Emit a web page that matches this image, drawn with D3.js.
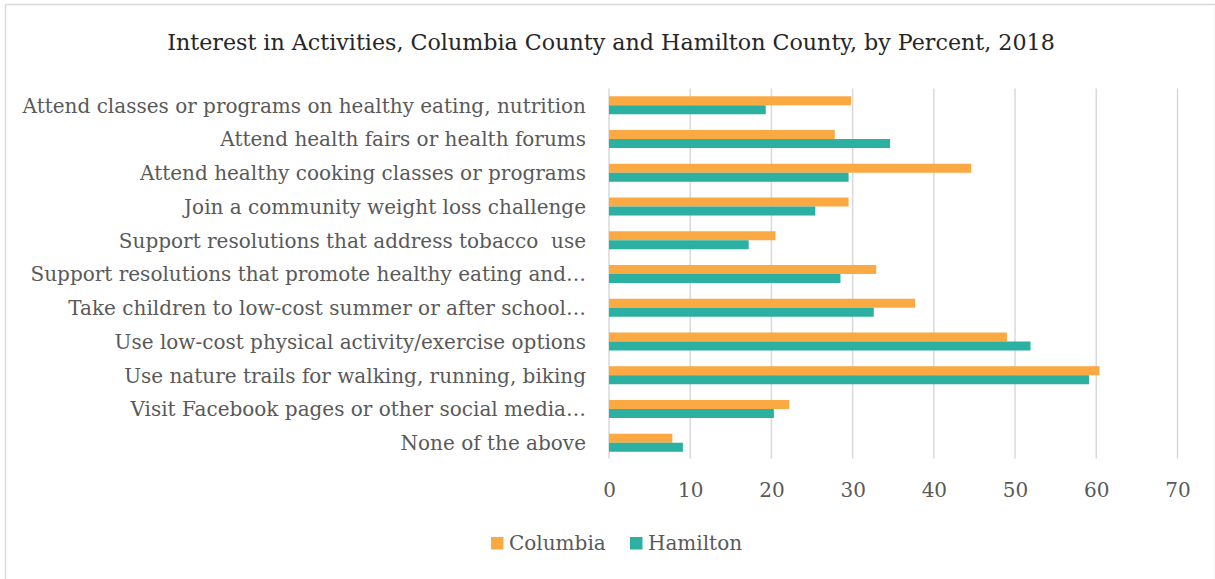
<!DOCTYPE html>
<html>
<head>
<meta charset="utf-8">
<script src="https://cdn.jsdelivr.net/npm/d3@7"></script>
<style>
  html, body { margin: 0; padding: 0; background: #fff; }
  svg { display: block; }
  text { font-family: "DejaVu Serif", "Liberation Serif", serif; white-space: pre; }
</style>
</head>
<body>
<svg id="chart" width="1215" height="579"></svg>
<script>
// Activities asked about in the survey (top to bottom)
const categories = [
  "Attend classes or programs on healthy eating, nutrition",
  "Attend health fairs or health forums",
  "Attend healthy cooking classes or programs",
  "Join a community weight loss challenge",
  "Support resolutions that address tobacco  use",
  "Support resolutions that promote healthy eating and\u2026",
  "Take children to low-cost summer or after school\u2026",
  "Use low-cost physical activity/exercise options",
  "Use nature trails for walking, running, biking",
  "Visit Facebook pages or other social media\u2026",
  "None of the above"
];

// Percent interested, by county
const columbia = [29.8, 27.8, 44.6, 29.5, 20.5, 32.9, 37.7, 49.0, 60.4, 22.2, 7.8];
const hamilton = [19.3, 34.6, 29.5, 25.4, 17.2, 28.5, 32.6, 51.9, 59.1, 20.3, 9.1];

const seriesNames = ["Columbia", "Hamilton"];
const seriesColors = ["#FBA943", "#2BB0A2"];
const xTicks = [0, 10, 20, 30, 40, 50, 60, 70];

const titleText = "Interest in Activities, Columbia County and Hamilton County, by Percent, 2018";

const svg = d3.select("#chart");
const W = 1215, H = 579;
const FONT = "'DejaVu Serif', 'Liberation Serif', serif";

// outer chart frame
svg.append("rect")
  .attr("x", 5.5).attr("y", 4.5)
  .attr("width", W - 5).attr("height", H)
  .attr("fill", "#fff")
  .attr("stroke", "#d9d9d9").attr("stroke-width", 1.5);

const plot = { left: 609, right: 1177.5, top: 88.4, bottom: 459.6 };

const x = d3.scaleLinear().domain([0, 70]).range([plot.left, plot.right]);
const y = d3.scaleBand().domain(categories)
  .range([plot.top, plot.bottom])
  .paddingInner(0.466).paddingOuter(0.233);
const ySub = d3.scaleBand().domain(seriesNames).range([0, y.bandwidth()]);

// title
svg.append("text")
  .attr("x", 611).attr("y", 50)
  .attr("text-anchor", "middle")
  .attr("fill", "#262626")
  .style("font-size", "22.2px")
  .text(titleText);

// vertical gridlines
svg.append("g")
  .selectAll("line")
  .data(xTicks)
  .join("line")
  .attr("x1", d => x(d)).attr("x2", d => x(d))
  .attr("y1", plot.top).attr("y2", 458.5)
  .attr("stroke", "#d9d9d9").attr("stroke-width", 1.5);

// x axis tick labels
const xAxis = d3.axisBottom(x).tickValues(xTicks).tickSize(0).tickPadding(0);
const gx = svg.append("g").attr("transform", "translate(0,483)").call(xAxis);
gx.select(".domain").remove();
gx.selectAll("text")
  .attr("fill", "#595959")
  .style("font-size", "20px")
  .style("font-family", FONT);

// category labels
const yAxis = d3.axisLeft(y).tickSize(0).tickPadding(0);
const gy = svg.append("g").attr("transform", "translate(586,1)").call(yAxis);
gy.select(".domain").remove();
gy.selectAll("text")
  .attr("fill", "#595959")
  .style("font-size", "20px")
  .style("font-family", FONT);

// bars
const series = [columbia, hamilton];
const groups = svg.append("g")
  .selectAll("g")
  .data(categories)
  .join("g")
  .attr("transform", d => `translate(0,${y(d)})`);

groups.selectAll("rect")
  .data((d, i) => seriesNames.map((s, j) => ({ s, v: series[j][i], c: seriesColors[j] })))
  .join("rect")
  .attr("x", x(0))
  .attr("y", d => ySub(d.s))
  .attr("width", d => x(d.v) - x(0))
  .attr("height", ySub.bandwidth())
  .attr("fill", d => d.c);

// legend
const legend = svg.append("g").attr("transform", "translate(491,537)");
const legendX = [0, 139];
seriesNames.forEach((s, i) => {
  const g = legend.append("g").attr("transform", `translate(${legendX[i]},0)`);
  g.append("rect").attr("width", 12.5).attr("height", 12.5).attr("fill", seriesColors[i]);
  g.append("text").attr("x", 18).attr("y", 13)
    .attr("fill", "#595959")
    .style("font-size", "20px")
    .text(s);
});
</script>
</body>
</html>
